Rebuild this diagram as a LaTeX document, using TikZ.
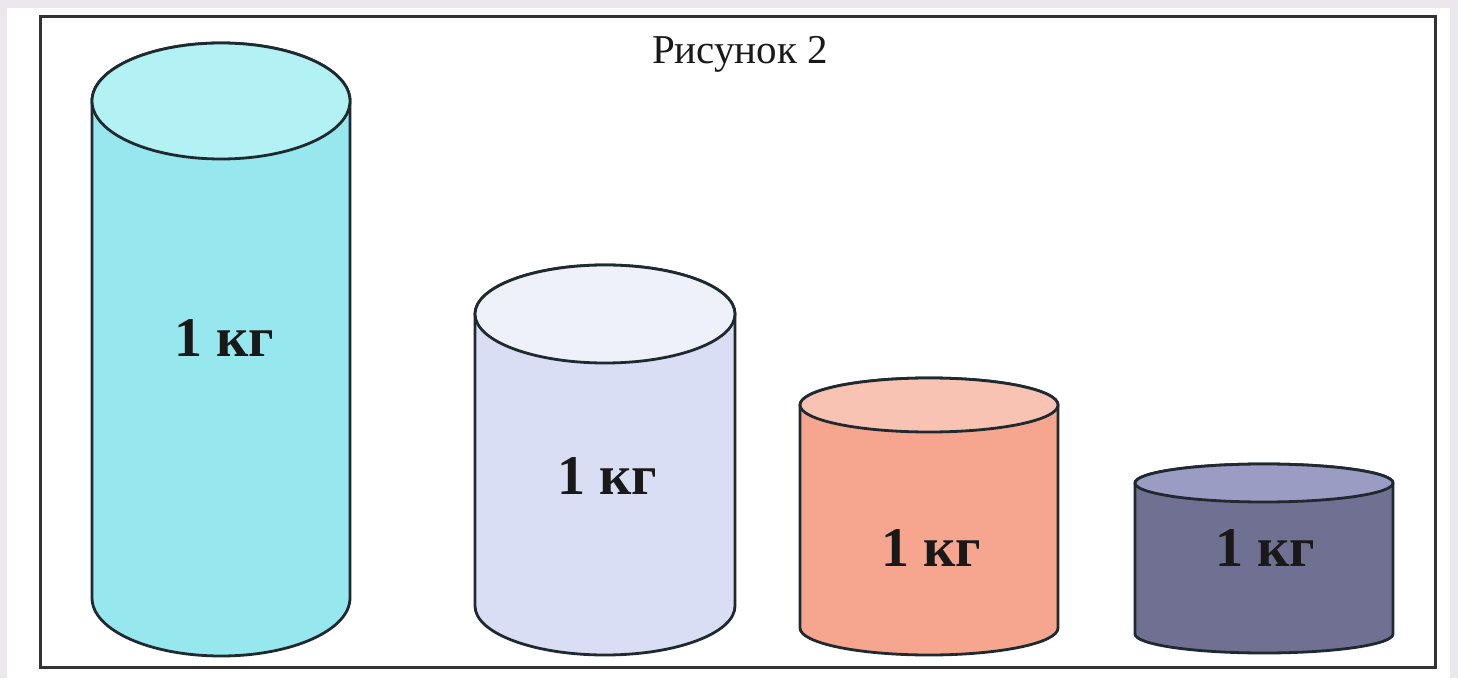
\documentclass[tikz,border=0pt]{standalone}
\usepackage{fontspec}
\setmainfont{Liberation Serif}
\definecolor{bgouter}{HTML}{ECE6EF}
\definecolor{edge}{HTML}{1E2A30}
\definecolor{cyanbody}{HTML}{97E8EE}
\definecolor{cyantop}{HTML}{B2F2F5}
\definecolor{lavbody}{HTML}{D9DEF4}
\definecolor{lavtop}{HTML}{EFF1FA}
\definecolor{salbody}{HTML}{F6A58E}
\definecolor{saltop}{HTML}{F9C3B3}
\definecolor{darkbody}{HTML}{707093}
\definecolor{darktop}{HTML}{9A9CC4}
\tikzset{
  cyledge/.style={draw=edge, line width=2.8pt, line join=round},
  weight/.style={inner sep=0pt, font=\fontsize{56}{56}\selectfont\bfseries, text=black!90},
  titletext/.style={inner sep=0pt, font=\fontsize{41}{41}\selectfont, text=black!90}
}
% cx, rx, top y, bottom y, ry, body colour, top colour
\newcommand\mycyl[7]{%
  \draw[cyledge, fill=#6] (#1pt-#2pt,#3pt) -- (#1pt-#2pt,#4pt)
     arc[start angle=180, end angle=360, x radius=#2pt, y radius=#5pt]
     -- (#1pt+#2pt,#3pt)
     arc[start angle=0, end angle=180, x radius=#2pt, y radius=#5pt] -- cycle;
  \draw[cyledge, fill=#7] (#1pt,#3pt) ellipse[x radius=#2pt, y radius=#5pt];
}
\begin{document}
\begin{tikzpicture}[x=1pt,y=1pt]
\useasboundingbox (0,0) rectangle (1458,678);
\fill[bgouter] (0,0) rectangle (1458,678);
\fill[white] (7,0) rectangle (1450,670);
\draw[draw=black!80, line width=3pt] (40,11) rectangle (1435,661);
\node[titletext] (title) at (740,624) {Рисунок 2};
\mycyl{221}{129}{577}{80}{58}{cyanbody}{cyantop}
\mycyl{605}{130}{364}{72}{49}{lavbody}{lavtop}
\mycyl{929}{129}{273}{50}{27}{salbody}{saltop}
\mycyl{1264}{129}{195}{44}{19}{darkbody}{darktop}
\node[weight] (w1) at (224,340) {1 кг};
\node[weight] (w2) at (607,202) {1 кг};
\node[weight] (w3) at (931,130) {1 кг};
\node[weight] (w4) at (1265,130) {1 кг};
\end{tikzpicture}
\end{document}
